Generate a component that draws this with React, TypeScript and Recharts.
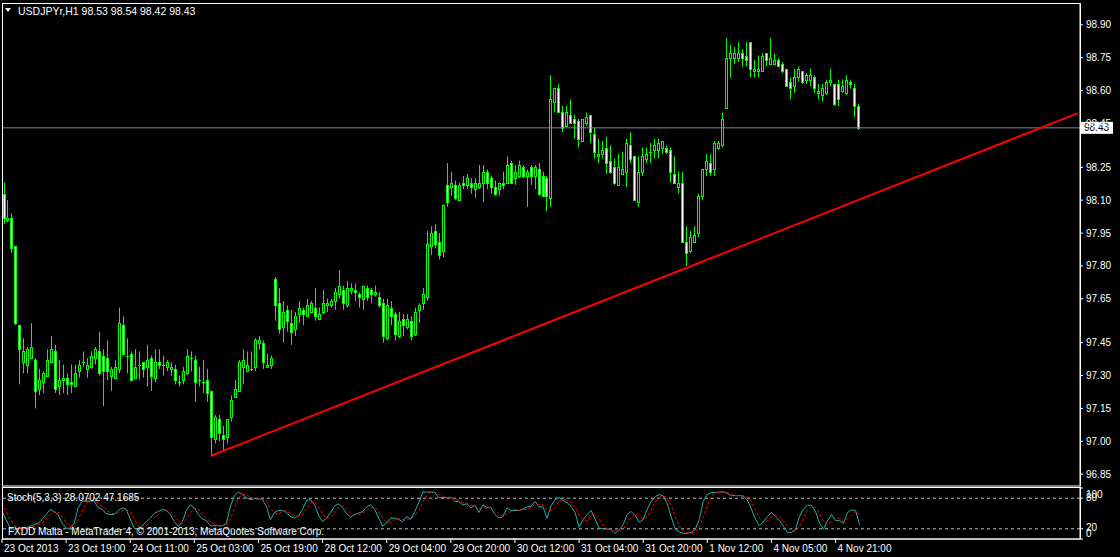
import {
  Bar,
  ComposedChart,
  Line,
  LineChart,
  ReferenceLine,
  XAxis,
  YAxis,
} from "recharts";

// USDJPYr H1 candles: [open, high, low, close]
const ohlc: [number, number, number, number][] = [
  [98.13, 98.18, 97.99, 98.02], [98.01, 98.10, 98.00, 98.02], [98.02, 98.04, 97.86, 97.88], [97.89, 97.89, 97.53, 97.54],
  [97.53, 97.53, 97.26, 97.42], [97.36, 97.47, 97.31, 97.41], [97.35, 97.43, 97.31, 97.42], [97.38, 97.54, 97.38, 97.43],
  [97.37, 97.38, 97.15, 97.23], [97.24, 97.33, 97.21, 97.28], [97.27, 97.32, 97.22, 97.31], [97.30, 97.42, 97.30, 97.37],
  [97.36, 97.48, 97.36, 97.42], [97.41, 97.44, 97.22, 97.24], [97.25, 97.37, 97.21, 97.28], [97.28, 97.35, 97.22, 97.29],
  [97.29, 97.31, 97.21, 97.26], [97.27, 97.35, 97.22, 97.26], [97.25, 97.35, 97.25, 97.31], [97.32, 97.37, 97.29, 97.35],
  [97.36, 97.41, 97.34, 97.36], [97.33, 97.38, 97.29, 97.35], [97.34, 97.41, 97.33, 97.39], [97.38, 97.43, 97.35, 97.42],
  [97.41, 97.50, 97.30, 97.31], [97.39, 97.42, 97.16, 97.32], [97.38, 97.46, 97.28, 97.32], [97.30, 97.34, 97.23, 97.33],
  [97.29, 97.37, 97.29, 97.34], [97.33, 97.61, 97.31, 97.54], [97.53, 97.57, 97.40, 97.40], [97.39, 97.47, 97.31, 97.39],
  [97.40, 97.41, 97.28, 97.28], [97.29, 97.42, 97.29, 97.34], [97.35, 97.41, 97.28, 97.35], [97.36, 97.36, 97.29, 97.33],
  [97.34, 97.44, 97.25, 97.37], [97.38, 97.39, 97.23, 97.30], [97.29, 97.42, 97.27, 97.36], [97.36, 97.42, 97.33, 97.35],
  [97.35, 97.39, 97.30, 97.35], [97.34, 97.37, 97.32, 97.36], [97.33, 97.36, 97.30, 97.34], [97.33, 97.35, 97.26, 97.28],
  [97.27, 97.30, 97.25, 97.27], [97.28, 97.34, 97.26, 97.32], [97.31, 97.42, 97.30, 97.39], [97.38, 97.41, 97.32, 97.38],
  [97.37, 97.39, 97.18, 97.27], [97.28, 97.34, 97.25, 97.28], [97.27, 97.37, 97.22, 97.27], [97.28, 97.33, 97.18, 97.22],
  [97.23, 97.23, 96.93, 97.02], [97.01, 97.12, 96.99, 97.11], [97.10, 97.12, 97.00, 97.04], [97.03, 97.07, 96.96, 97.01],
  [97.02, 97.10, 96.99, 97.10], [97.11, 97.21, 97.09, 97.19], [97.20, 97.28, 97.20, 97.24], [97.23, 97.37, 97.23, 97.36],
  [97.34, 97.42, 97.26, 97.37], [97.32, 97.41, 97.32, 97.35], [97.33, 97.41, 97.32, 97.33], [97.34, 97.47, 97.32, 97.46],
  [97.45, 97.48, 97.42, 97.46], [97.45, 97.46, 97.33, 97.36], [97.34, 97.40, 97.34, 97.35], [97.35, 97.39, 97.33, 97.38],
  [97.74, 97.75, 97.55, 97.62], [97.63, 97.70, 97.49, 97.51], [97.52, 97.64, 97.45, 97.59], [97.60, 97.62, 97.50, 97.55],
  [97.54, 97.60, 97.44, 97.50], [97.51, 97.59, 97.48, 97.57], [97.58, 97.64, 97.54, 97.61], [97.60, 97.61, 97.53, 97.58],
  [97.57, 97.65, 97.57, 97.62], [97.59, 97.64, 97.59, 97.63], [97.61, 97.70, 97.55, 97.57], [97.56, 97.61, 97.56, 97.58],
  [97.59, 97.69, 97.58, 97.63], [97.62, 97.65, 97.59, 97.63], [97.62, 97.65, 97.61, 97.64], [97.64, 97.70, 97.60, 97.68],
  [97.67, 97.78, 97.65, 97.71], [97.69, 97.71, 97.60, 97.63], [97.62, 97.73, 97.61, 97.70], [97.69, 97.72, 97.67, 97.70],
  [97.69, 97.72, 97.64, 97.68], [97.67, 97.68, 97.61, 97.66], [97.65, 97.71, 97.60, 97.71], [97.70, 97.71, 97.64, 97.66],
  [97.69, 97.70, 97.63, 97.67], [97.67, 97.71, 97.66, 97.68], [97.66, 97.68, 97.61, 97.62], [97.63, 97.65, 97.45, 97.48],
  [97.47, 97.65, 97.46, 97.62], [97.61, 97.64, 97.53, 97.57], [97.58, 97.59, 97.46, 97.49], [97.48, 97.59, 97.47, 97.55],
  [97.56, 97.58, 97.48, 97.53], [97.52, 97.58, 97.51, 97.56], [97.55, 97.57, 97.46, 97.48], [97.49, 97.61, 97.48, 97.59],
  [97.60, 97.63, 97.54, 97.62], [97.63, 97.70, 97.60, 97.67], [97.66, 97.96, 97.64, 97.90], [97.89, 97.98, 97.85, 97.95],
  [97.96, 97.99, 97.88, 97.90], [97.91, 97.95, 97.83, 97.85], [97.87, 98.08, 97.84, 98.08], [98.17, 98.27, 98.07, 98.09],
  [98.16, 98.23, 98.12, 98.18], [98.17, 98.19, 98.10, 98.11], [98.10, 98.18, 98.10, 98.17], [98.18, 98.21, 98.15, 98.17],
  [98.17, 98.22, 98.15, 98.20], [98.18, 98.20, 98.13, 98.16], [98.15, 98.20, 98.11, 98.18], [98.16, 98.26, 98.15, 98.18],
  [98.18, 98.26, 98.09, 98.23], [98.23, 98.24, 98.15, 98.18], [98.20, 98.21, 98.13, 98.16], [98.16, 98.19, 98.12, 98.13],
  [98.15, 98.18, 98.12, 98.18], [98.18, 98.23, 98.15, 98.17], [98.18, 98.30, 98.18, 98.26], [98.27, 98.28, 98.18, 98.18],
  [98.20, 98.26, 98.17, 98.23], [98.21, 98.28, 98.20, 98.26], [98.25, 98.26, 98.20, 98.21], [98.21, 98.24, 98.07, 98.23],
  [98.25, 98.26, 98.17, 98.21], [98.21, 98.26, 98.15, 98.25], [98.24, 98.27, 98.12, 98.13], [98.21, 98.23, 98.12, 98.12],
  [98.20, 98.21, 98.05, 98.12], [98.11, 98.67, 98.07, 98.56], [98.55, 98.61, 98.50, 98.61], [98.61, 98.63, 98.50, 98.50],
  [98.50, 98.53, 98.41, 98.43], [98.44, 98.53, 98.44, 98.50], [98.49, 98.56, 98.45, 98.45], [98.47, 98.49, 98.38, 98.45],
  [98.46, 98.47, 98.34, 98.38], [98.37, 98.47, 98.37, 98.47], [98.45, 98.50, 98.44, 98.48], [98.49, 98.49, 98.36, 98.41],
  [98.40, 98.43, 98.29, 98.32], [98.30, 98.38, 98.27, 98.31], [98.31, 98.37, 98.29, 98.33], [98.34, 98.39, 98.22, 98.27],
  [98.28, 98.35, 98.22, 98.23], [98.25, 98.29, 98.17, 98.18], [98.17, 98.31, 98.17, 98.25], [98.22, 98.32, 98.22, 98.24],
  [98.23, 98.38, 98.16, 98.36], [98.35, 98.41, 98.27, 98.29], [98.30, 98.30, 98.10, 98.10], [98.09, 98.30, 98.07, 98.23],
  [98.23, 98.34, 98.21, 98.30], [98.29, 98.34, 98.27, 98.31], [98.32, 98.36, 98.27, 98.32], [98.33, 98.38, 98.29, 98.35],
  [98.33, 98.38, 98.29, 98.36], [98.34, 98.37, 98.31, 98.37], [98.34, 98.35, 98.31, 98.32], [98.33, 98.34, 98.18, 98.23],
  [98.22, 98.30, 98.18, 98.18], [98.16, 98.23, 98.13, 98.18], [98.18, 98.23, 97.91, 97.91], [97.91, 97.98, 97.80, 97.86],
  [97.87, 97.96, 97.86, 97.93], [97.91, 97.98, 97.91, 97.94], [97.95, 98.13, 97.93, 98.12], [98.12, 98.24, 98.10, 98.24],
  [98.24, 98.31, 98.21, 98.28], [98.27, 98.31, 98.21, 98.23], [98.24, 98.37, 98.21, 98.36], [98.34, 98.37, 98.33, 98.36],
  [98.35, 98.50, 98.34, 98.47], [98.52, 98.84, 98.52, 98.75], [98.75, 98.81, 98.66, 98.77], [98.75, 98.80, 98.72, 98.77],
  [98.75, 98.82, 98.73, 98.77], [98.77, 98.79, 98.71, 98.75], [98.76, 98.82, 98.71, 98.74], [98.82, 98.82, 98.66, 98.70],
  [98.69, 98.74, 98.66, 98.70], [98.69, 98.76, 98.66, 98.70], [98.69, 98.77, 98.69, 98.76], [98.77, 98.77, 98.71, 98.74],
  [98.72, 98.84, 98.72, 98.75], [98.72, 98.77, 98.72, 98.74], [98.74, 98.75, 98.71, 98.71], [98.72, 98.73, 98.68, 98.69],
  [98.70, 98.70, 98.62, 98.62], [98.64, 98.66, 98.56, 98.61], [98.62, 98.70, 98.59, 98.66], [98.66, 98.71, 98.64, 98.70],
  [98.69, 98.69, 98.63, 98.64], [98.65, 98.68, 98.63, 98.67], [98.65, 98.70, 98.62, 98.67], [98.66, 98.67, 98.59, 98.61],
  [98.59, 98.63, 98.56, 98.60], [98.58, 98.63, 98.55, 98.61], [98.59, 98.65, 98.58, 98.64], [98.64, 98.70, 98.62, 98.65],
  [98.63, 98.63, 98.53, 98.54], [98.63, 98.65, 98.53, 98.56], [98.60, 98.65, 98.59, 98.62], [98.59, 98.67, 98.58, 98.65],
  [98.64, 98.65, 98.61, 98.63], [98.61, 98.63, 98.48, 98.53], [98.53, 98.54, 98.42, 98.43],
];

// Stochastic(5,3,3) main (%K) and signal (%D)
const stochK = [
  54, 38, 23, 19, 21, 20, 21, 25, 28, 31, 38, 48, 58, 54, 48, 31, 21, 21, 31, 61,
  74, 74, 74, 74, 61, 58, 50, 48, 48, 56, 61, 58, 39, 21, 19, 26, 34, 41, 50, 54,
  58, 56, 48, 34, 25, 34, 56, 67, 61, 48, 39, 36, 26, 26, 26, 26, 31, 64, 85, 92,
  87, 81, 77, 79, 79, 77, 63, 38, 52, 56, 56, 52, 44, 41, 46, 58, 76, 77, 67, 46,
  34, 41, 52, 65, 69, 61, 50, 43, 48, 51, 54, 63, 67, 58, 41, 25, 32, 41, 41, 38,
  34, 44, 39, 54, 71, 92, 92, 92, 91, 81, 81, 81, 82, 74, 73, 67, 69, 61, 66, 52,
  67, 62, 61, 48, 41, 44, 61, 56, 56, 56, 59, 63, 64, 74, 63, 63, 41, 65, 77, 81,
  76, 71, 64, 52, 23, 38, 48, 56, 39, 21, 20, 20, 18, 11, 18, 28, 48, 54, 46, 33,
  38, 58, 74, 83, 87, 84, 70, 43, 19, 14, 11, 11, 13, 19, 38, 74, 87, 91, 91, 92,
  93, 89, 85, 85, 85, 84, 76, 59, 39, 26, 34, 44, 52, 44, 36, 25, 13, 13, 19, 44,
  59, 66, 66, 54, 31, 19, 36, 48, 36, 36, 31, 52, 57, 56, 28.07,
];
const stochD = [
  70, 55, 38, 27, 21, 20, 21, 22, 25, 28, 32, 39, 48, 53, 53, 44, 33, 24, 24, 38,
  55, 70, 74, 74, 70, 64, 56, 52, 49, 51, 55, 58, 53, 39, 26, 22, 26, 34, 42, 48,
  54, 56, 54, 46, 36, 31, 38, 52, 61, 59, 49, 41, 34, 29, 26, 26, 28, 40, 60, 80,
  88, 87, 82, 79, 78, 78, 73, 59, 51, 49, 55, 55, 51, 46, 44, 48, 60, 70, 73, 63,
  49, 40, 42, 53, 62, 65, 60, 51, 47, 47, 51, 56, 61, 63, 55, 41, 33, 33, 38, 40,
  38, 39, 39, 46, 55, 72, 85, 92, 92, 88, 84, 81, 81, 79, 76, 71, 70, 66, 65, 60,
  62, 60, 63, 57, 50, 44, 49, 54, 58, 56, 57, 59, 62, 67, 67, 67, 56, 56, 61, 74,
  78, 76, 70, 62, 46, 38, 36, 47, 48, 39, 27, 20, 19, 16, 16, 19, 31, 43, 49, 44,
  39, 43, 57, 72, 81, 85, 80, 66, 44, 25, 15, 12, 12, 14, 23, 44, 66, 84, 90, 91,
  92, 91, 89, 86, 85, 85, 82, 73, 58, 41, 33, 35, 43, 47, 44, 35, 25, 17, 15, 25,
  41, 56, 64, 62, 50, 35, 29, 34, 40, 40, 34, 40, 47, 55, 47.17,
];

const timeLabels = [
  "23 Oct 2013", "23 Oct 19:00", "24 Oct 11:00", "25 Oct 03:00", "25 Oct 19:00",
  "28 Oct 12:00", "29 Oct 04:00", "29 Oct 20:00", "30 Oct 12:00", "31 Oct 04:00",
  "31 Oct 20:00", "1 Nov 12:00", "4 Nov 05:00", "4 Nov 21:00",
];
const priceTicks = [98.9, 98.75, 98.6, 98.45, 98.25, 98.1, 97.95, 97.8, 97.65, 97.45, 97.3, 97.15, 97.0, 96.85];
const stochTicks = [0, 20, 80, 100];
// trend line drawn through the 25 Oct low, out to the right edge
const trendPoints = [
  { i: 52, v: 96.935 },
  { i: 269, v: 98.497 },
];
const lastPrice = 98.43;

const SLOTS = 270; // bars + empty space on the right (chart shift)
const LABEL_STEP = 16;
const LIME = "#00ff00";
const FONT = "'Liberation Sans', Arial, sans-serif";

const rows = Array.from({ length: SLOTS }, (_, i) => {
  const bar = ohlc[i];
  const tp = trendPoints.find(p => p.i === i);
  return {
    i,
    o: bar ? bar[0] : null,
    h: bar ? bar[1] : null,
    l: bar ? bar[2] : null,
    c: bar ? bar[3] : null,
    trend: tp ? tp.v : null,
    k: i < stochK.length ? stochK[i] : null,
    d: i < stochD.length ? stochD[i] : null,
  };
});

const Candle = (props: any) => {
  const { x, y, width, height, payload } = props;
  if (!payload || payload.o == null) return null;
  const top = Math.min(y, y + height);
  const h = Math.abs(height);
  const span = payload.h - payload.l || 1;
  const py = (v: number) => top + ((payload.h - v) / span) * h;
  const cx = Math.floor(x + width / 2) + 0.5;
  const yo = py(payload.o);
  const yc = py(payload.c);
  const bt = Math.round(Math.min(yo, yc)) + 0.5;
  const bb = Math.round(Math.max(yo, yc)) + 0.5;
  const bear = payload.c < payload.o;
  return (
    <g>
      <line x1={cx} x2={cx} y1={top} y2={top + h} stroke={LIME} strokeWidth={1} />
      {bb - bt < 1 ? (
        <line x1={cx - 1.5} x2={cx + 1.5} y1={bt} y2={bt} stroke={LIME} strokeWidth={1} />
      ) : (
        <rect x={cx - 1} y={bt} width={2} height={bb - bt} fill={bear ? "#ffffff" : "#000000"} stroke={LIME} strokeWidth={1} />
      )}
    </g>
  );
};

const PriceBox = (props: any) => {
  const { viewBox } = props;
  const x = viewBox.x + viewBox.width + 1;
  const y = viewBox.y;
  return (
    <g>
      <rect x={x} y={y - 6} width={32} height={12} fill="#ffffff" />
      <text x={x + 3} y={y} dominantBaseline="central" fontSize={10} fontFamily={FONT} fill="#000000">
        {lastPrice.toFixed(2)}
      </text>
    </g>
  );
};

// MT4 squeezes the level labels of the sub-window toward its edges
const stochLabelShift: Record<number, number> = { 100: 6, 80: -1, 20: -1, 0: -6 };

const StochTick = (props: any) => {
  const { x, y, payload } = props;
  return (
    <text x={x} y={y + (stochLabelShift[payload.value] ?? 0)} dominantBaseline="central" fontSize={10} fontFamily={FONT} fill="#ffffff">
      {payload.value}
    </text>
  );
};

const TimeTick = (props: any) => {
  const { x, y, payload } = props;
  const label = timeLabels[Math.round(payload.value / LABEL_STEP)] ?? "";
  return (
    <text x={x + 2} y={y + 5} dominantBaseline="central" fontSize={10} fontFamily={FONT} fill="#ffffff">
      {label}
    </text>
  );
};

export default function App() {
  const labelTicks = timeLabels.map((_, k) => k * LABEL_STEP);
  return (
    <div style={{ position: "absolute", left: 0, top: 0, width: 1120, height: 557, background: "#000", overflow: "hidden", fontFamily: FONT }}>
      <div style={{ position: "absolute", left: 0, top: 0 }}>
        <ComposedChart width={1120} height={486} data={rows} margin={{ top: 4, right: 0, left: 2, bottom: 0 }} barCategoryGap={0}>
          <XAxis dataKey="i" type="category" hide />
          <YAxis
            orientation="right"
            width={40}
            domain={[96.796, 98.995]}
            allowDataOverflow
            ticks={priceTicks}
            interval={0}
            tickFormatter={(v: number) => v.toFixed(2)}
            tick={{ fill: "#ffffff", fontSize: 10, fontFamily: FONT }}
            tickSize={3}
            tickMargin={3}
            axisLine={{ stroke: "#ffffff" }}
            tickLine={{ stroke: "#ffffff" }}
          />
          <Bar dataKey={(d: any) => (d.l == null ? null : [d.l, d.h])} shape={<Candle />} isAnimationActive={false} />
          <ReferenceLine y={lastPrice} stroke="#778899" strokeWidth={1} label={<PriceBox />} />
          <Line dataKey="trend" stroke="#ff0000" strokeWidth={2} dot={false} connectNulls isAnimationActive={false} />
        </ComposedChart>
      </div>
      <div style={{ position: "absolute", left: 0, top: 486 }}>
        <LineChart width={1120} height={71} data={rows} margin={{ top: 2, right: 0, left: 2, bottom: 0 }}>
          <XAxis
            dataKey="i"
            type="category"
            ticks={labelTicks}
            interval={0}
            height={18}
            tick={<TimeTick />}
            tickSize={4}
            tickMargin={0}
            axisLine={{ stroke: "#ffffff" }}
            tickLine={{ stroke: "#ffffff" }}
          />
          <YAxis
            orientation="right"
            width={40}
            domain={[0, 100]}
            ticks={stochTicks}
            interval={0}
            tick={<StochTick />}
            tickSize={3}
            tickMargin={3}
            axisLine={{ stroke: "#ffffff" }}
            tickLine={{ stroke: "#ffffff" }}
          />
          <ReferenceLine y={80} stroke="#c0c0c0" strokeDasharray="3 3" />
          <ReferenceLine y={20} stroke="#c0c0c0" strokeDasharray="3 3" />
          <Line dataKey="k" stroke="#20b2aa" strokeWidth={1} dot={false} isAnimationActive={false} />
          <Line dataKey="d" stroke="#ff0000" strokeWidth={1} strokeDasharray="3 2" dot={false} isAnimationActive={false} />
        </LineChart>
      </div>
      <svg width={1120} height={557} style={{ position: "absolute", left: 0, top: 0, pointerEvents: "none" }}>
        <rect x={2.5} y={3.5} width={1078} height={482.5} fill="none" stroke="#ffffff" />
        <rect x={2.5} y={487.5} width={1078} height={51.5} fill="none" stroke="#ffffff" />
        <polygon points="5,8 11,8 8,12" fill="#ffffff" />
        <text x={18} y={10.5} dominantBaseline="central" fontSize={10.5} fontFamily={FONT} fill="#ffffff">
          USDJPYr,H1  98.53 98.54 98.42 98.43
        </text>
        <text x={7} y={497} dominantBaseline="central" fontSize={10} fontFamily={FONT} fill="#ffffff">
          Stoch(5,3,3) 28.0702 47.1685
        </text>
        <text x={8} y={531.5} dominantBaseline="central" fontSize={10} fontFamily={FONT} fill="#ffffff">
          FXDD Malta - MetaTrader 4, © 2001-2013, MetaQuotes Software Corp.
        </text>
      </svg>
    </div>
  );
}
